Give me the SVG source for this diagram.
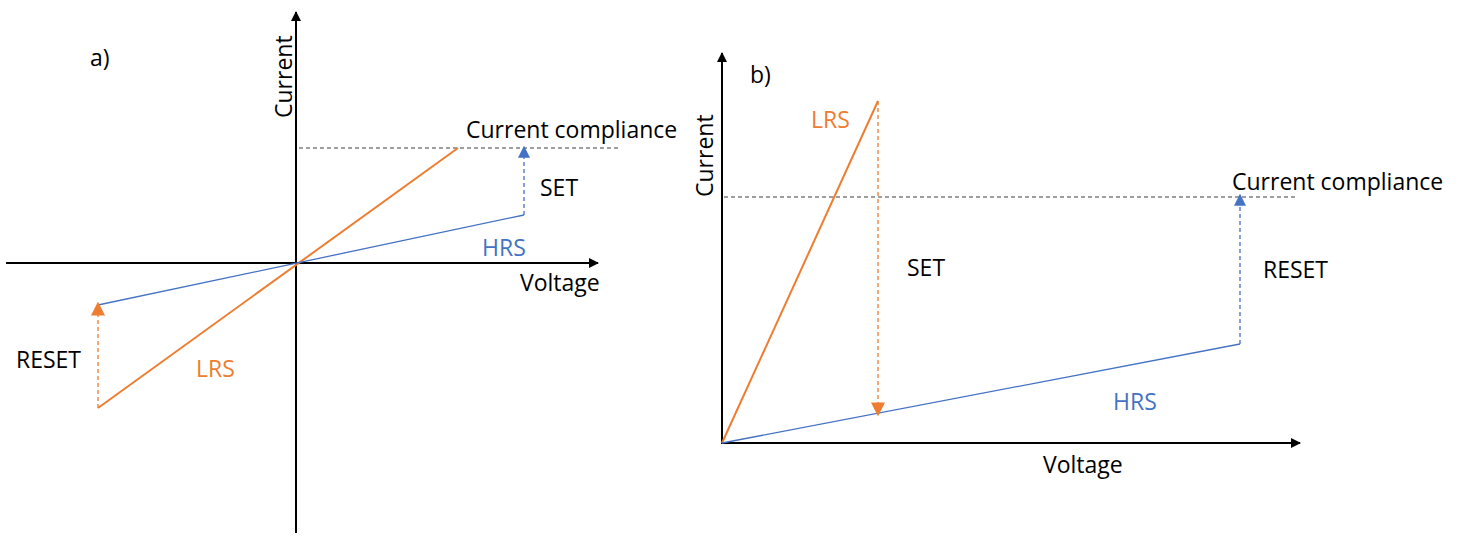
<svg xmlns="http://www.w3.org/2000/svg" width="1460" height="536" viewBox="0 0 1460 536">
  <style>
    .axis { stroke: #000; stroke-width: 2; fill: none; }
    .lrs { stroke: #ED7D31; stroke-width: 2; fill: none; }
    .hrs { stroke: #4472C4; stroke-width: 1.3; fill: none; }
    .cc { stroke: #7F7F7F; stroke-width: 1.5; stroke-dasharray: 4 3; fill: none; }
    .setb { stroke: #4472C4; stroke-width: 1.3; stroke-dasharray: 4 3; fill: none; }
    .seto { stroke: #ED7D31; stroke-width: 1.3; stroke-dasharray: 4 3; fill: none; }
    text { font-family: "Open Sans", "Noto Sans", "Liberation Sans", sans-serif; font-size: 23px; fill: #000; }
    .tor { fill: #ED7D31; }
    .tbl { fill: #4472C4; }
  </style>
  <defs>
    <marker id="axHead" viewBox="0 0 10 10" refX="9" refY="5" markerWidth="5" markerHeight="5" orient="auto" markerUnits="strokeWidth">
      <path d="M0,0 L10,5 L0,10 z" fill="#000"/>
    </marker>
    <marker id="blueHead" viewBox="0 0 10 10" refX="9" refY="5" markerWidth="12" markerHeight="12" orient="auto" markerUnits="userSpaceOnUse">
      <path d="M0,0 L10,5 L0,10 z" fill="#4472C4"/>
    </marker>
    <marker id="orangeHead" viewBox="0 0 10 10" refX="9" refY="5" markerWidth="14" markerHeight="14" orient="auto" markerUnits="userSpaceOnUse">
      <path d="M0,0 L10,5 L0,10 z" fill="#ED7D31"/>
    </marker>
  </defs>

  <!-- panel a -->
  <g id="panel-a">
    <g id="a-axes">
      <line class="axis" x1="296" y1="533" x2="296" y2="12" marker-end="url(#axHead)"/>
      <line class="axis" x1="6" y1="263" x2="598" y2="263" marker-end="url(#axHead)"/>
    </g>
    <g id="a-connectors">
      <line class="cc" x1="299" y1="148" x2="620" y2="148"/>
      <line class="lrs" x1="98" y1="408" x2="458" y2="148"/>
      <line class="hrs" x1="98" y1="305" x2="524" y2="215"/>
      <line class="setb" x1="524" y1="215" x2="524" y2="147" marker-end="url(#blueHead)"/>
      <line class="seto" x1="98" y1="408" x2="98" y2="303" marker-end="url(#orangeHead)"/>
    </g>
    <g id="a-labels">
      <text x="90" y="66">a)</text>
      <text transform="translate(292,118) rotate(-90)">Current</text>
      <text x="466" y="138">Current compliance</text>
      <text x="540" y="196">SET</text>
      <text x="482" y="256" class="tbl">HRS</text>
      <text x="520" y="291">Voltage</text>
      <text x="16" y="368">RESET</text>
      <text x="196" y="377" class="tor">LRS</text>
    </g>
  </g>

  <!-- panel b -->
  <g id="panel-b">
    <g id="b-axes">
      <line class="axis" x1="722" y1="444" x2="722" y2="53" marker-end="url(#axHead)"/>
      <line class="axis" x1="721" y1="443" x2="1300" y2="443" marker-end="url(#axHead)"/>
    </g>
    <g id="b-connectors">
      <line class="cc" x1="724" y1="197" x2="1296" y2="197"/>
      <line class="lrs" x1="722" y1="443" x2="878" y2="101"/>
      <line class="hrs" x1="722" y1="443" x2="1240" y2="344"/>
      <line class="seto" x1="878" y1="101" x2="878" y2="415" marker-end="url(#orangeHead)"/>
      <line class="setb" x1="1240" y1="344" x2="1240" y2="195" marker-end="url(#blueHead)"/>
    </g>
    <g id="b-labels">
      <text x="750" y="83">b)</text>
      <text transform="translate(713,197) rotate(-90)">Current</text>
      <text x="811" y="128" class="tor">LRS</text>
      <text x="1232" y="190">Current compliance</text>
      <text x="907" y="276">SET</text>
      <text x="1263" y="278">RESET</text>
      <text x="1113" y="410" class="tbl">HRS</text>
      <text x="1043" y="473">Voltage</text>
    </g>
  </g>
</svg>
